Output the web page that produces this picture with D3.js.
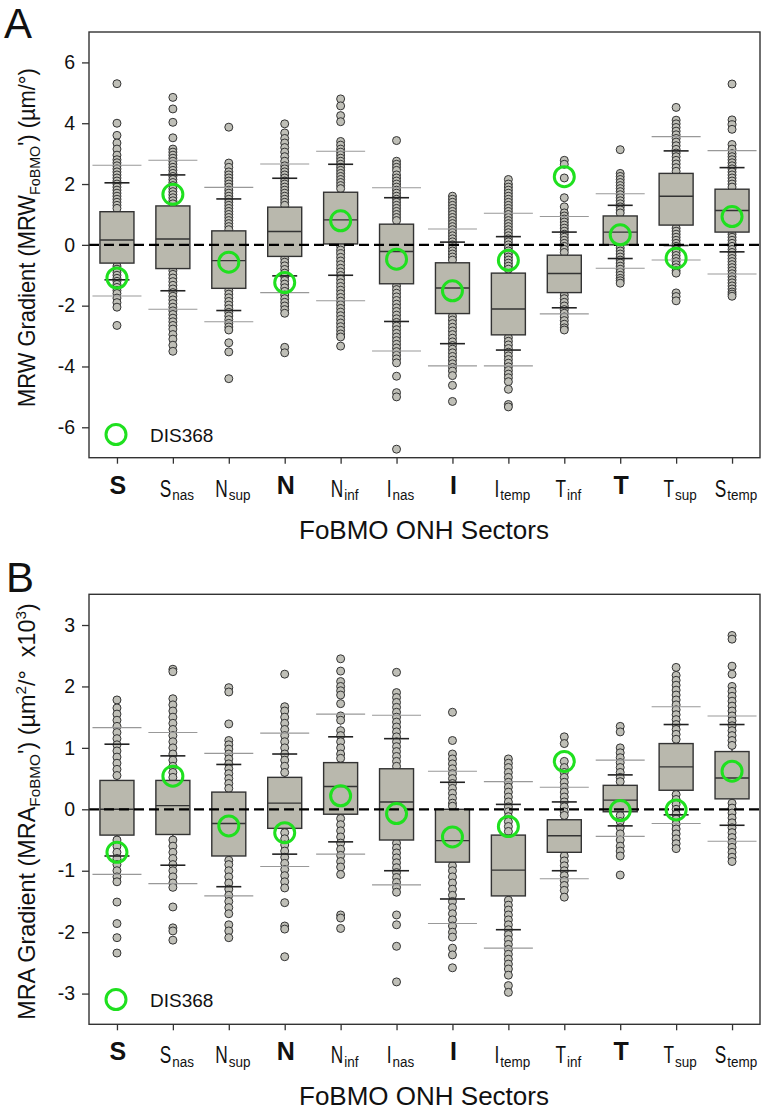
<!DOCTYPE html>
<html><head><meta charset="utf-8">
<script src="https://cdn.jsdelivr.net/npm/d3@7"></script>
<style>body{margin:0;background:#fff} svg{display:block} text{font-family:"Liberation Sans",Arial,Helvetica,sans-serif;fill:#111}</style>
</head><body><svg id="c" width="766" height="1112"></svg>
<script>
// ---------- categories ----------
const sectorMain = ["S","S","N","N","N","I","I","I","T","T","T","S"];
const sectorSub  = ["","nas","sup","","inf","nas","","temp","inf","","sup","temp"];
const sectorBold = [true,false,false,true,false,false,true,false,false,true,false,false];
const sectors = sectorMain.map((m,i)=>m+sectorSub[i]);

// ---------- Panel A: MRW gradient ----------
const mrwTicks = [-6,-4,-2,0,2,4,6];
const mrwP5  = [-1.68,-2.12,-2.53,-1.57,-1.84,-3.49,-3.98,-3.98,-2.27,-0.77,-0.50,-0.96];
const mrwP10 = [-1.15,-1.51,-2.16,-1.02,-1.00,-2.52,-3.25,-3.46,-2.07,-0.45,-0.02,-0.23];
const mrwQ1  = [-0.60,-0.78,-1.43,-0.38, 0.03,-1.28,-2.26,-2.96,-1.57, 0.00, 0.65, 0.42];
const mrwMed = [ 0.16, 0.19,-0.52, 0.44, 0.82,-0.22,-1.42,-2.11,-0.94, 0.42, 1.60, 1.13];
const mrwQ3  = [ 1.09, 1.28, 0.46, 1.24, 1.73, 0.68,-0.59,-0.93,-0.34, 0.95, 2.35, 1.83];
const mrwP90 = [ 2.04, 2.30, 1.51, 2.19, 2.65, 1.55, 0.09, 0.27, 0.42, 1.30, 3.09, 2.54];
const mrwP95 = [ 2.62, 2.78, 1.89, 2.66, 3.08, 1.88, 0.52, 1.04, 0.93, 1.68, 3.56, 3.10];
const mrwDIS = [-1.09, 1.66,-0.57,-1.24, 0.79,-0.47,-1.51,-0.51, 2.24, 0.33,-0.44, 0.93];
const mrwDots = [
 [5.3,4.0,3.6,3.35,3.15,2.95,2.8,2.7,2.6,2.5,2.4,2.3,2.2,2.1,2.0,1.9,1.8,1.7,1.6,1.5,1.4,1.3,1.2,-0.7,-0.8,-0.9,-1.0,-1.1,-1.2,-1.3,-1.4,-1.5,-1.6,-1.75,-1.9,-2.05,-2.65],
 [4.85,4.47,4.03,3.52,3.15,3.05,2.95,2.85,2.75,2.65,2.55,2.45,2.35,2.25,2.15,2.05,1.95,1.85,1.75,1.65,1.55,1.45,1.35,-0.85,-0.97,-1.09,-1.21,-1.33,-1.45,-1.57,-1.69,-1.81,-1.93,-2.05,-2.17,-2.29,-2.41,-2.53,-2.65,-2.77,-2.95,-3.1,-3.3,-3.5],
 [3.87,2.69,2.55,2.4,2.3,2.2,2.1,2.0,1.9,1.8,1.7,1.6,1.5,1.4,1.3,1.2,1.1,1.0,0.9,0.8,0.7,0.6,0.5,-1.5,-1.62,-1.74,-1.86,-1.98,-2.1,-2.22,-2.34,-2.46,-2.58,-2.7,-2.8,-3.22,-3.52,-4.4],
 [3.98,3.68,3.5,3.35,3.2,3.05,2.9,2.75,2.6,2.5,2.4,2.3,2.2,2.1,2.0,1.9,1.8,1.7,1.6,1.5,1.4,1.3,-0.45,-0.57,-0.69,-0.81,-0.93,-1.05,-1.17,-1.29,-1.41,-1.53,-1.65,-1.77,-1.89,-2.01,-2.13,-2.25,-3.37,-3.55],
 [4.8,4.57,4.25,4.05,3.4,3.28,3.15,3.05,2.95,2.85,2.75,2.65,2.55,2.45,2.35,2.25,2.15,2.05,1.95,1.85,-0.05,-0.17,-0.29,-0.41,-0.53,-0.65,-0.77,-0.89,-1.01,-1.13,-1.25,-1.37,-1.49,-1.61,-1.73,-1.85,-1.97,-2.09,-2.21,-2.33,-2.45,-2.57,-2.69,-2.81,-2.93,-3.03,-3.33],
 [3.43,2.75,2.65,2.55,2.45,2.3,2.2,2.1,2.0,1.9,1.8,1.7,1.6,1.5,1.4,1.3,1.2,1.1,1.0,0.9,0.8,-1.35,-1.47,-1.59,-1.71,-1.83,-1.95,-2.07,-2.19,-2.31,-2.43,-2.55,-2.67,-2.79,-2.91,-3.03,-3.15,-3.27,-3.39,-3.51,-3.63,-3.75,-3.88,-4.32,-4.86,-5.0,-6.72],
 [1.6,1.5,1.4,1.3,1.2,1.1,1.0,0.9,0.8,0.7,0.6,0.5,0.4,0.3,0.2,0.1,0.0,-0.1,-0.2,-0.3,-0.4,-0.5,-2.35,-2.47,-2.59,-2.71,-2.83,-2.95,-3.07,-3.19,-3.31,-3.43,-3.55,-3.67,-3.79,-3.91,-4.03,-4.15,-4.3,-4.62,-5.15],
 [2.15,2.0,1.9,1.8,1.7,1.6,1.5,1.4,1.3,1.2,1.1,1.0,0.9,0.8,0.7,0.6,0.5,0.4,0.3,0.2,0.1,0.0,-0.1,-0.2,-0.3,-0.4,-0.5,-0.6,-0.7,-0.8,-3.05,-3.17,-3.29,-3.41,-3.53,-3.65,-3.77,-3.89,-4.01,-4.13,-4.25,-4.37,-4.5,-4.75,-5.25,-5.33],
 [2.78,2.65,2.2,1.55,1.25,1.05,0.95,0.85,0.75,0.65,0.55,0.45,0.35,0.25,0.15,0.05,-0.05,-0.15,-0.25,-1.65,-1.77,-1.89,-2.01,-2.13,-2.25,-2.37,-2.49,-2.61,-2.73,-2.8],
 [3.13,2.35,2.25,2.15,2.05,1.95,1.85,1.75,1.65,1.55,1.45,1.35,1.25,1.15,1.05,-0.1,-0.2,-0.3,-0.4,-0.5,-0.6,-0.7,-0.8,-0.9,-1.0,-1.1,-1.18,-1.26],
 [4.52,4.1,3.98,3.86,3.74,3.62,3.5,3.38,3.26,3.14,3.02,2.9,2.78,2.66,2.54,2.42,0.55,0.45,0.35,0.25,0.15,0.05,-0.05,-0.15,-0.25,-0.35,-0.45,-0.55,-0.65,-0.75,-0.85,-0.93,-1.58,-1.7,-1.84],
 [5.29,4.11,3.95,3.8,3.3,3.15,3.0,2.9,2.8,2.7,2.6,2.5,2.4,2.3,2.2,2.1,2.0,1.9,0.35,0.25,0.15,0.05,-0.05,-0.15,-0.25,-0.35,-0.45,-0.55,-0.65,-0.75,-0.85,-0.95,-1.05,-1.15,-1.25,-1.35,-1.45,-1.55,-1.62,-1.69]
];

// ---------- Panel B: MRA gradient ----------
const mraTicks = [-3,-2,-1,0,1,2,3];
const mraP5  = [-1.06,-1.21,-1.41,-0.93,-0.73,-1.23,-1.86,-2.26,-1.13,-0.44,-0.23,-0.52];
const mraP10 = [-0.76,-0.91,-1.26,-0.73,-0.53,-1.00,-1.46,-1.96,-1.00,-0.27,-0.09,-0.26];
const mraQ1  = [-0.42,-0.41,-0.76,-0.31,-0.08,-0.50,-0.86,-1.41,-0.70,-0.04, 0.31, 0.17];
const mraMed = [ 0.00, 0.06,-0.23, 0.10, 0.37, 0.12,-0.51,-0.99,-0.43, 0.15, 0.69, 0.51];
const mraQ3  = [ 0.47, 0.47, 0.28, 0.52, 0.76, 0.66, 0.00,-0.42,-0.17, 0.39, 1.07, 0.94];
const mraP90 = [ 1.06, 0.87, 0.73, 0.90, 1.18, 1.15, 0.44, 0.08, 0.12, 0.56, 1.38, 1.38];
const mraP95 = [ 1.33, 1.25, 0.91, 1.24, 1.55, 1.53, 0.62, 0.45, 0.36, 0.80, 1.67, 1.52];
const mraDIS = [-0.70, 0.54,-0.27,-0.38, 0.22,-0.07,-0.45,-0.28, 0.78,-0.02,-0.01, 0.62];
const mraDots = [
 [1.78,1.65,1.55,1.45,1.35,1.25,1.15,1.05,0.95,0.85,0.75,0.65,0.55,-0.5,-0.6,-0.7,-0.8,-0.9,-1.0,-1.1,-1.18,-1.51,-1.86,-2.09,-2.34],
 [2.28,2.24,1.8,1.7,1.6,1.5,1.4,1.3,1.2,1.1,1.0,0.9,0.8,0.7,0.6,0.52,-0.5,-0.6,-0.7,-0.8,-0.9,-1.0,-1.1,-1.2,-1.27,-1.59,-1.93,-1.98,-2.13],
 [1.98,1.91,1.39,1.12,1.05,0.98,0.9,0.82,0.74,0.66,0.58,0.5,0.42,0.34,-0.83,-0.9,-1.0,-1.1,-1.2,-1.3,-1.4,-1.5,-1.6,-1.7,-1.88,-1.98,-2.09],
 [2.2,1.67,1.6,1.5,1.4,1.3,1.2,1.1,1.0,0.9,0.8,0.7,0.6,-0.38,-0.48,-0.58,-0.68,-0.78,-0.88,-0.98,-1.08,-1.18,-1.28,-1.52,-1.9,-1.95,-2.4],
 [2.45,2.25,2.08,2.0,1.93,1.86,1.72,1.52,1.45,1.28,1.2,1.1,1.0,0.9,0.83,-0.15,-0.25,-0.35,-0.45,-0.55,-0.65,-0.75,-0.85,-0.94,-1.06,-1.72,-1.77,-1.94],
 [2.23,1.9,1.82,1.74,1.66,1.58,1.5,1.42,1.34,1.26,1.18,1.1,1.02,0.94,0.86,0.78,0.7,-0.55,-0.63,-0.71,-0.79,-0.87,-0.95,-1.03,-1.11,-1.19,-1.27,-1.35,-1.72,-1.88,-2.23,-2.81],
 [1.58,1.12,0.9,0.82,0.74,0.66,0.58,0.5,0.42,0.34,0.26,0.18,0.1,0.05,-0.92,-1.0,-1.1,-1.2,-1.3,-1.4,-1.5,-1.6,-1.7,-1.8,-1.9,-2.0,-2.08,-2.26,-2.37,-2.58],
 [0.82,0.75,0.68,0.6,0.52,0.44,0.36,0.28,0.2,0.12,0.04,-0.04,-0.12,-0.2,-0.28,-0.36,-1.48,-1.56,-1.64,-1.72,-1.8,-1.88,-1.96,-2.04,-2.12,-2.2,-2.28,-2.36,-2.44,-2.52,-2.6,-2.7,-2.87,-2.98],
 [1.18,1.07,0.78,0.68,0.6,0.52,0.44,0.36,0.28,0.2,0.12,0.04,-0.04,-0.1,-0.76,-0.84,-0.92,-1.0,-1.08,-1.16,-1.24,-1.32,-1.43],
 [1.35,1.26,1.0,0.92,0.84,0.76,0.68,0.6,0.52,0.45,-0.1,-0.2,-0.3,-0.4,-0.5,-0.6,-0.68,-0.76,-1.07],
 [2.31,2.18,2.1,2.02,1.94,1.86,1.78,1.7,1.62,1.54,1.46,1.38,1.3,1.22,1.14,0.24,0.16,0.08,0.0,-0.08,-0.16,-0.24,-0.32,-0.4,-0.48,-0.56,-0.64],
 [2.83,2.77,2.33,2.2,2.0,1.92,1.84,1.76,1.68,1.6,1.52,1.44,1.36,1.28,1.2,1.12,1.04,0.1,0.02,-0.06,-0.14,-0.22,-0.3,-0.38,-0.46,-0.54,-0.62,-0.7,-0.78,-0.85]
];

const legendLabel = "DIS368";
const xTitle = "FoBMO ONH Sectors";

// ---------- styles ----------
const BOX_FILL = "#b9b8ad", DOT_FILL = "#bfbfb7", INK = "#222", GREEN = "#1fe01f";

const svg = d3.select("#c");
const PL = 89, PR = 760;

function drawPanel(o){
  const g = svg.append("g");
  const x = d3.scalePoint().domain(sectors).range([PL, PR]).padding(0.5);
  const y = d3.scaleLinear().domain(o.domain).range([o.bottom, o.top]);
  const bw = 34, cw = 12.5, gw = 24.5;

  // thin gray whisker line p5-p95
  g.selectAll(".wl").data(sectors).join("line")
    .attr("x1", d=>x(d)).attr("x2", d=>x(d))
    .attr("y1", (d,i)=>y(o.p5[i])).attr("y2", (d,i)=>y(o.p95[i]))
    .attr("stroke", "#9a9a9a").attr("stroke-width", 1);
  // black whisker line p10-p90
  g.selectAll(".wb").data(sectors).join("line")
    .attr("x1", d=>x(d)).attr("x2", d=>x(d))
    .attr("y1", (d,i)=>y(o.p10[i])).attr("y2", (d,i)=>y(o.p90[i]))
    .attr("stroke", INK).attr("stroke-width", 1);

  // data points
  sectors.forEach((s,i)=>{
    g.append("g").selectAll("circle").data(o.dots[i]).join("circle")
      .attr("cx", x(s)).attr("cy", d=>y(d)).attr("r", 4)
      .attr("fill", DOT_FILL).attr("stroke", "#333").attr("stroke-width", 1);
  });

  // boxes
  g.selectAll(".box").data(sectors).join("rect")
    .attr("x", d=>x(d)-bw/2).attr("width", bw)
    .attr("y", (d,i)=>y(o.q3[i])).attr("height", (d,i)=>y(o.q1[i])-y(o.q3[i]))
    .attr("fill", BOX_FILL).attr("stroke", "#333").attr("stroke-width", 1.4);
  g.selectAll(".med").data(sectors).join("line")
    .attr("x1", d=>x(d)-bw/2).attr("x2", d=>x(d)+bw/2)
    .attr("y1", (d,i)=>y(o.med[i])).attr("y2", (d,i)=>y(o.med[i]))
    .attr("stroke", "#333").attr("stroke-width", 1.4);

  // caps
  [o.p10, o.p90].forEach(arr=>{
    g.append("g").selectAll("line").data(sectors).join("line")
      .attr("x1", d=>x(d)-cw).attr("x2", d=>x(d)+cw)
      .attr("y1", (d,i)=>y(arr[i])).attr("y2", (d,i)=>y(arr[i]))
      .attr("stroke", INK).attr("stroke-width", 1.6);
  });
  [o.p5, o.p95].forEach(arr=>{
    g.append("g").selectAll("line").data(sectors).join("line")
      .attr("x1", d=>x(d)-gw).attr("x2", d=>x(d)+gw)
      .attr("y1", (d,i)=>y(arr[i])).attr("y2", (d,i)=>y(arr[i]))
      .attr("stroke", "#999").attr("stroke-width", 1.1);
  });

  // dashed zero line (drawn over the boxes)
  g.append("line").attr("x1", PL).attr("x2", PR).attr("y1", y(0)).attr("y2", y(0))
    .attr("stroke", "#000").attr("stroke-width", 2.2).attr("stroke-dasharray", "10,5");

  // DIS368 markers
  g.selectAll(".dis").data(sectors).join("circle")
    .attr("cx", d=>x(d)).attr("cy", (d,i)=>y(o.dis[i])).attr("r", 10)
    .attr("fill", "none").attr("stroke", GREEN).attr("stroke-width", 3);

  // frame
  g.append("rect").attr("x", PL).attr("y", o.top).attr("width", PR-PL).attr("height", o.bottom-o.top)
    .attr("fill", "none").attr("stroke", "#333").attr("stroke-width", 1.4);

  // y axis
  const ya = g.append("g").attr("transform", `translate(${PL},0)`)
    .call(d3.axisLeft(y).tickValues(o.ticks).tickSize(7).tickPadding(7).tickFormat(d=>String(d)));
  ya.select(".domain").remove();
  ya.selectAll(".tick line").attr("stroke", "#333").attr("stroke-width", 1.3);
  ya.selectAll(".tick text").attr("font-size", 19.5).attr("fill", "#111")
    .attr("font-family", '"Liberation Sans",Arial,sans-serif');

  // x axis
  const xa = g.append("g").attr("transform", `translate(0,${o.bottom})`)
    .call(d3.axisBottom(x).tickSize(6).tickFormat(""));
  xa.select(".domain").remove();
  xa.selectAll(".tick line").attr("stroke", "#333").attr("stroke-width", 1.3);

  // x tick labels
  sectors.forEach((s,i)=>{
    const cx = x(s);
    if (sectorBold[i]) {
      g.append("text").attr("x", cx+1).attr("y", o.bottom+36).attr("text-anchor","middle")
        .attr("font-size", 25).attr("font-weight","bold").attr("fill","#000").text(sectorMain[i]);
    } else {
      const lg = g.append("g");
      const m = lg.append("text").attr("font-size", 24).text(sectorMain[i]);
      const sb = lg.append("text").attr("font-size", 14.5).text(sectorSub[i]);
      const w1 = m.node().getComputedTextLength()*0.72;
      const w2 = sb.node().getComputedTextLength()*0.93;
      const start = cx + 4 - (w1 + 1 + w2)/2;
      m.attr("transform", `translate(${start},${o.bottom+39}) scale(0.72,1)`);
      sb.attr("transform", `translate(${start+w1+1},${o.bottom+42.5}) scale(0.93,1)`);
    }
  });

  // x title
  g.append("text").attr("x", 424).attr("y", o.bottom+81).attr("text-anchor","middle")
    .attr("font-size", 26).text(xTitle);

  // y title
  const yt = g.append("text").attr("text-anchor","middle").attr("font-size", 23);
  o.ylabel.forEach(p=>{
    const t = yt.append("tspan").text(p.t);
    if (p.sub) t.attr("font-size", 15).attr("dy", 5);
    else if (p.sup) t.attr("font-size", 15).attr("dy", -9);
    if (p.back) t.attr("dy", p.back);
  });
  const len = yt.node().getComputedTextLength();
  const sx = o.ylen/len;
  yt.attr("transform", `translate(35,${o.ymid}) rotate(-90) scale(${sx},1)`);

  // panel letter
  svg.append("text").attr("x", o.letterX).attr("y", o.letterY).attr("font-size", 42).attr("fill","#000").text(o.letter);

  // legend
  g.append("circle").attr("cx", 116).attr("cy", o.legY).attr("r", 10)
    .attr("fill","none").attr("stroke", GREEN).attr("stroke-width", 3);
  g.append("text").attr("x", 150).attr("y", o.legY+7).attr("font-size", 19).text(legendLabel);
}

drawPanel({
  domain:[-7,7], top:32, bottom:457.7, ticks:mrwTicks,
  p5:mrwP5, p10:mrwP10, q1:mrwQ1, med:mrwMed, q3:mrwQ3, p90:mrwP90, p95:mrwP95,
  dots:mrwDots, dis:mrwDIS, letter:"A", letterX:4, letterY:38, legY:434.5,
  ylen:339, ymid:237.5,
  ylabel:[{t:"MRW Gradient (MRW"},{t:"FoBMO",sub:true},{t:"') (µm/°)",back:-5}]
});
drawPanel({
  domain:[-3.5,3.5], top:594.3, bottom:1024.3, ticks:mraTicks,
  p5:mraP5, p10:mraP10, q1:mraQ1, med:mraMed, q3:mraQ3, p90:mraP90, p95:mraP95,
  dots:mraDots, dis:mraDIS, letter:"B", letterX:6, letterY:592, legY:999.5,
  ylen:417, ymid:811.5,
  ylabel:[{t:"MRA Gradient (MRA"},{t:"FoBMO",sub:true},{t:"') (µm",back:-5},{t:"2",sup:true},{t:"/°\u00a0\u00a0x10",back:9},{t:"3",sup:true},{t:")",back:9}]
});
</script></body></html>
